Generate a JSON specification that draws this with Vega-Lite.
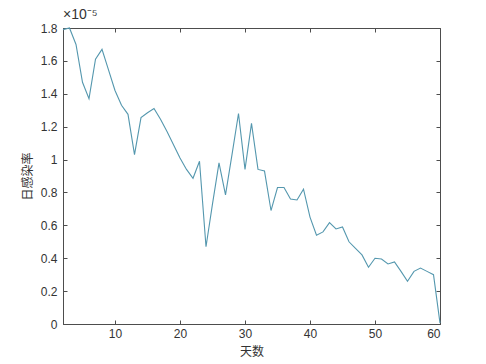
{
  "$schema": "https://vega.github.io/schema/vega-lite/v6.json",
  "autosize": "none",
  "width": 377,
  "height": 296,
  "padding": {"left": 63, "top": 28, "right": 46, "bottom": 40},
  "background": "white",
  "config": {
    "font": "Liberation Sans",
    "view": {"stroke": "#4d4d4d", "strokeWidth": 1},
    "axis": {
      "domainColor": "#4d4d4d",
      "tickColor": "#4d4d4d",
      "labelColor": "#333333",
      "labelFontSize": 12,
      "grid": false,
      "tickSize": -4,
      "titleFont": "Noto Sans CJK SC",
      "titleFontWeight": "normal",
      "titleFontSize": 12,
      "titleColor": "#333333"
    }
  },
  "title": {
    "text": "×10⁻⁵",
    "anchor": "start",
    "frame": "group",
    "fontSize": 14,
    "fontWeight": "normal",
    "color": "#333333",
    "offset": 0
  },
  "data": {
    "values": [
      {"day": 2, "rate": 1.79e-5}, {"day": 3, "rate": 1.80e-5}, {"day": 4, "rate": 1.70e-5},
      {"day": 5, "rate": 1.47e-5}, {"day": 6, "rate": 1.37e-5}, {"day": 7, "rate": 1.61e-5},
      {"day": 8, "rate": 1.67e-5}, {"day": 9, "rate": 1.545e-5}, {"day": 10, "rate": 1.42e-5},
      {"day": 11, "rate": 1.33e-5}, {"day": 12, "rate": 1.275e-5}, {"day": 13, "rate": 1.03e-5},
      {"day": 14, "rate": 1.255e-5}, {"day": 15, "rate": 1.285e-5}, {"day": 16, "rate": 1.31e-5},
      {"day": 17, "rate": 1.245e-5}, {"day": 18, "rate": 1.17e-5}, {"day": 19, "rate": 1.09e-5},
      {"day": 20, "rate": 1.01e-5}, {"day": 21, "rate": 0.94e-5}, {"day": 22, "rate": 0.886e-5},
      {"day": 23, "rate": 0.99e-5}, {"day": 24, "rate": 0.47e-5}, {"day": 25, "rate": 0.73e-5},
      {"day": 26, "rate": 0.98e-5}, {"day": 27, "rate": 0.785e-5}, {"day": 28, "rate": 1.03e-5},
      {"day": 29, "rate": 1.28e-5}, {"day": 30, "rate": 0.94e-5}, {"day": 31, "rate": 1.22e-5},
      {"day": 32, "rate": 0.94e-5}, {"day": 33, "rate": 0.93e-5}, {"day": 34, "rate": 0.69e-5},
      {"day": 35, "rate": 0.83e-5}, {"day": 36, "rate": 0.83e-5}, {"day": 37, "rate": 0.76e-5},
      {"day": 38, "rate": 0.754e-5}, {"day": 39, "rate": 0.82e-5}, {"day": 40, "rate": 0.65e-5},
      {"day": 41, "rate": 0.54e-5}, {"day": 42, "rate": 0.56e-5}, {"day": 43, "rate": 0.616e-5},
      {"day": 44, "rate": 0.578e-5}, {"day": 45, "rate": 0.59e-5}, {"day": 46, "rate": 0.50e-5},
      {"day": 47, "rate": 0.46e-5}, {"day": 48, "rate": 0.42e-5}, {"day": 49, "rate": 0.345e-5},
      {"day": 50, "rate": 0.40e-5}, {"day": 51, "rate": 0.395e-5}, {"day": 52, "rate": 0.365e-5},
      {"day": 53, "rate": 0.377e-5}, {"day": 54, "rate": 0.32e-5}, {"day": 55, "rate": 0.26e-5},
      {"day": 56, "rate": 0.32e-5}, {"day": 57, "rate": 0.34e-5}, {"day": 58, "rate": 0.32e-5},
      {"day": 59, "rate": 0.30e-5}, {"day": 60, "rate": 0.005e-5}
    ]
  },
  "layer": [
    {
      "mark": {"type": "line", "color": "#5497ae", "strokeWidth": 1.1},
      "encoding": {
        "x": {
          "field": "day", "type": "quantitative",
          "scale": {"domain": [2, 60], "nice": false, "zero": false},
          "axis": {"orient": "bottom", "values": [10, 20, 30, 40, 50, 60], "labelPadding": 8, "title": "天数", "titlePadding": 7}
        },
        "y": {
          "field": "rate", "type": "quantitative",
          "scale": {"domain": [0, 1.8e-5], "nice": false},
          "axis": {
            "orient": "left",
            "values": [0, 0.2e-5, 0.4e-5, 0.6e-5, 0.8e-5, 1e-5, 1.2e-5, 1.4e-5, 1.6e-5, 1.8e-5],
            "labelExpr": "format(datum.value * 100000, '.1~f')",
            "labelPadding": 10,
            "title": "日感染率",
            "titlePadding": 6
          }
        }
      }
    },
    {
      "mark": {"type": "line", "opacity": 0},
      "encoding": {
        "x": {
          "field": "day", "type": "quantitative",
          "scale": {"domain": [2, 60], "nice": false, "zero": false},
          "axis": {"orient": "top", "values": [10, 20, 30, 40, 50, 60], "labels": false, "title": null, "domain": false}
        },
        "y": {
          "field": "rate", "type": "quantitative",
          "scale": {"domain": [0, 1.8e-5], "nice": false},
          "axis": {
            "orient": "right",
            "values": [0, 0.2e-5, 0.4e-5, 0.6e-5, 0.8e-5, 1e-5, 1.2e-5, 1.4e-5, 1.6e-5, 1.8e-5],
            "labels": false, "title": null, "domain": false
          }
        }
      }
    }
  ],
  "resolve": {"axis": {"x": "independent", "y": "independent"}}
}
